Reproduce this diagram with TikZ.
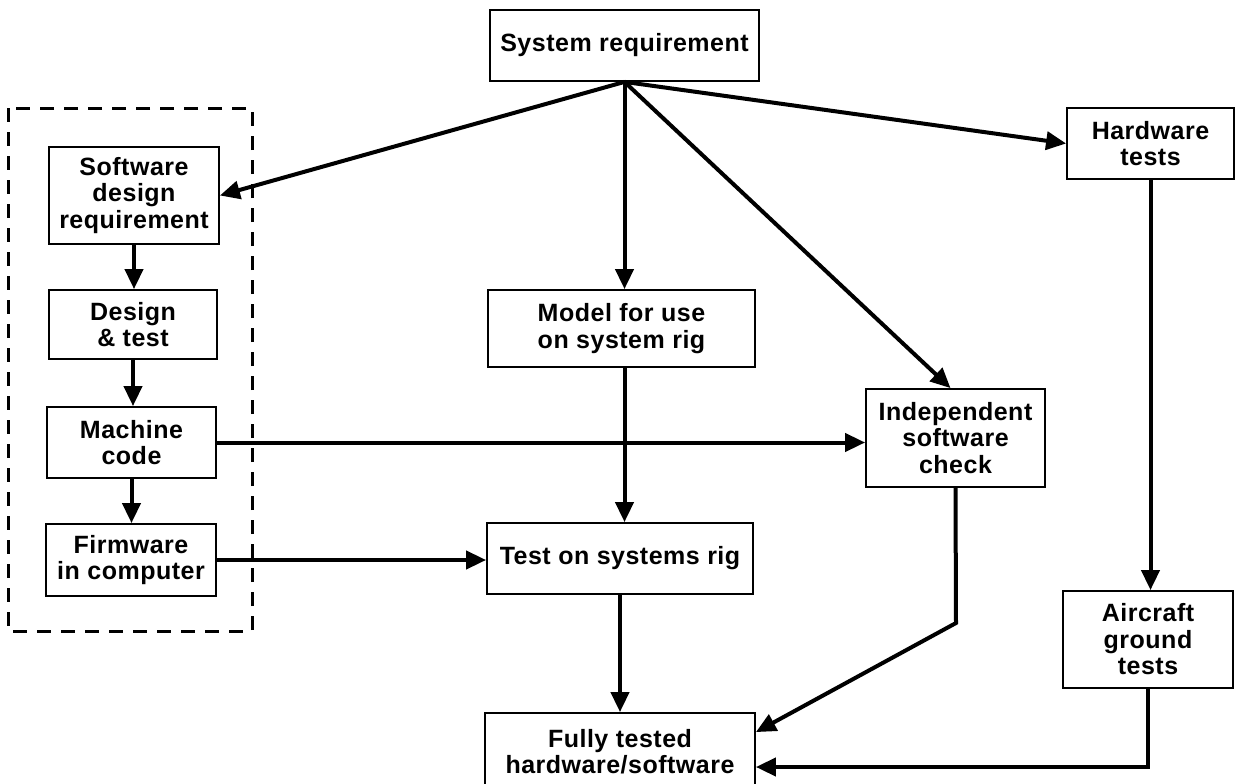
\documentclass[tikz,border=0pt]{standalone}
\usepackage{fontspec}
\setmainfont{Liberation Sans}[LetterSpace=2]
\usetikzlibrary{arrows.meta,calc}
\tikzset{
  box/.style={draw, line width=1.8pt, align=center, inner sep=0pt,
    font=\fontsize{25}{26.5}\selectfont\bfseries},
  conn/.style={line width=4pt, -{Triangle[length=20pt,width=18pt]}},
  groupbox/.style={draw, line width=3pt, dash pattern=on 14pt off 10pt}
}
\begin{document}
\begin{tikzpicture}[x=1pt,y=-1pt]
\useasboundingbox (0,0) rectangle (1235,784);
\node[box, minimum width=269pt, minimum height=71pt] (sysreq) at (624.5,45.5) {System requirement};
\node[box, minimum width=170pt, minimum height=97pt] (sdr) at (134,195.5) {Software\\design\\requirement};
\node[box, minimum width=168pt, minimum height=69pt] (design) at (133,324.5) {Design\\\& test};
\node[box, minimum width=169pt, minimum height=71pt] (machine) at (131.5,442.5) {Machine\\code};
\node[box, minimum width=170pt, minimum height=72pt] (firmware) at (131,560) {Firmware\\in computer};
\node[box, minimum width=267pt, minimum height=77pt] (model) at (621.5,328.5) {Model for use\\on system rig};
\node[box, minimum width=266pt, minimum height=71pt] (test) at (620,558.5) {Test on systems rig};
\node[box, minimum width=270pt, minimum height=77pt] (fully) at (620,751.5) {Fully tested\\hardware/software};
\node[box, minimum width=179pt, minimum height=98pt] (indep) at (955.5,438) {Independent\\software\\check};
\node[box, minimum width=167pt, minimum height=71pt] (hw) at (1150.5,143.5) {Hardware\\tests};
\node[box, minimum width=170pt, minimum height=97pt] (air) at (1148,639.5) {Aircraft\\ground\\tests};
\draw[groupbox] (8,108) rectangle (252,631);
\coordinate (F) at (sysreq.south);
\draw[conn] (F) -- (sdr.east);
\draw[conn] (F) -- (F |- model.north);
\draw[conn] (F) -- ($(indep.north)+(-5,0)$);
\draw[conn] (F) -- (hw.west);
\draw[conn] (sdr.south) -- (sdr.south |- design.north);
\draw[conn] (design.south) -- (design.south |- machine.north);
\draw[conn] (machine.south) -- (machine.south |- firmware.north);
\draw[conn] (machine.east) -- (machine.east -| indep.west);
\draw[conn] (firmware.east) -- (firmware.east -| test.west);
\draw[conn] (model.south -| F) -- (test.north -| F);
\draw[conn] (test.south) -- (fully.north);
\coordinate (c1) at (956,623);
\draw[conn] (indep.south) -- (c1) -- ($(fully.north east)+(0,20)$);
\draw[conn] (hw.south) -- (hw.south |- air.north);
\coordinate (c2) at (1148,767);
\draw[conn] (air.south) -- (c2) -- (c2 -| fully.east);
\end{tikzpicture}
\end{document}
